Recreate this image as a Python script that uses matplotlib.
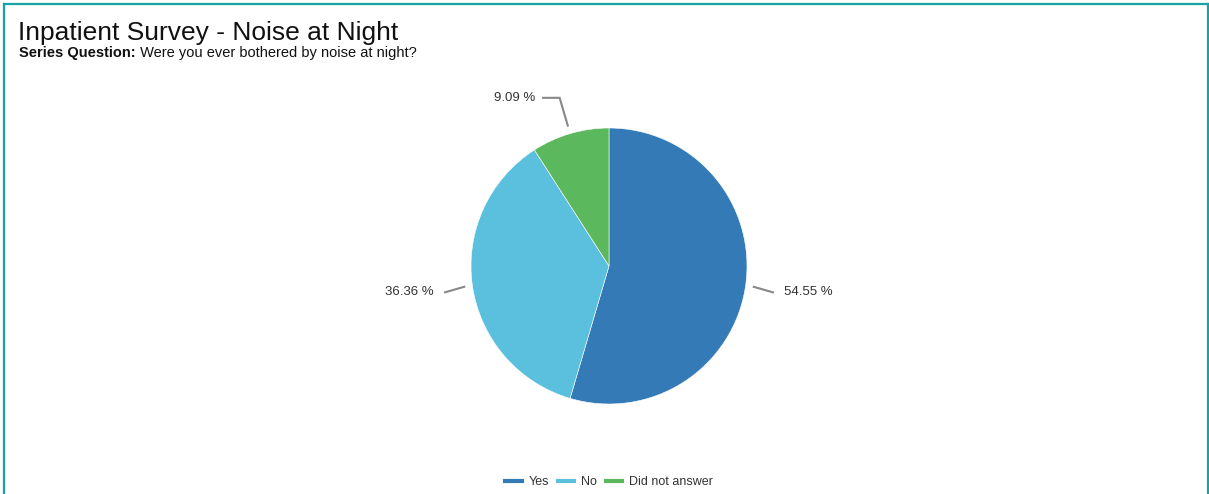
import matplotlib
matplotlib.use("Agg")
import matplotlib.pyplot as plt
import numpy as np
from matplotlib.lines import Line2D

plt.rcParams['font.family'] = ['Liberation Sans', 'DejaVu Sans']

categories = ["Yes", "No", "Did not answer"]
values = [54.55, 36.36, 9.09]
colors = ["#337ab7", "#5bc0de", "#5cb85c"]
title = "Inpatient Survey - Noise at Night"
sub_bold = "Series Question:"
sub_text = " Were you ever bothered by noise at night?"

W, H = 1209, 494
fig = plt.figure(figsize=(W / 100, H / 100), dpi=100)
fig.patch.set_facecolor("white")

def fx(px):
    return px / W

def fy(py):
    return 1 - py / H

# border
teal = "#17a2a8"
fig.add_artist(Line2D([fx(4), fx(4)], [fy(4.5), fy(H + 5)], color=teal, lw=1.6, transform=fig.transFigure))
fig.add_artist(Line2D([fx(4), fx(1207.5)], [fy(4.5), fy(4.5)], color=teal, lw=1.6, transform=fig.transFigure))
fig.add_artist(Line2D([fx(1207.5), fx(1207.5)], [fy(4.5), fy(H + 5)], color=teal, lw=1.6, transform=fig.transFigure))

# titles
fig.text(fx(18), fy(40), title, fontsize=19, color="#111111", va="baseline", ha="left")
tb = fig.text(fx(19), fy(57), sub_bold, fontsize=10.5, fontweight="bold", color="#111111", va="baseline", ha="left")
fig.canvas.draw()
bb = tb.get_window_extent(renderer=fig.canvas.get_renderer())
fig.text(bb.x1 / W, fy(57), sub_text, fontsize=10.5, color="#111111", va="baseline", ha="left")

# pie
cx, cy, r = 609, 266, 138
ax = fig.add_axes([fx(cx - r), fy(cy + r), 2 * r / W, 2 * r / H])
wedges, _ = ax.pie(values, colors=colors, startangle=90, counterclock=False,
                   radius=1.0, wedgeprops=dict(linewidth=0.4, edgecolor="white"))
ax.set_xlim(-1, 1)
ax.set_ylim(-1, 1)
ax.set_aspect("equal")
ax.axis("off")

total = sum(values)
ang = 90.0
for w, v in zip(wedges, values):
    span = 360.0 * v / total
    mid = np.deg2rad(ang - span / 2)
    ang -= span
    dx, dy = np.cos(mid), np.sin(mid)
    side = -1 if dx < 0 else 1
    if abs(dy) > 0.7:
        r0, r1 = 1.06, 1.27
        x0, y0 = r0 * dx, r0 * dy
        x1, y1 = r1 * dx, r1 * dy
        x2 = x1 + side * 0.12
        ax.plot([x0, x1, x2], [y0, y1, y1], color="#888888", lw=1.5, clip_on=False, solid_joinstyle="miter")
        ax.text(x2 + side * 0.06, y1, f"{v:.2f} %", ha="right" if side < 0 else "left",
                va="center", fontsize=9.5, color="#333333")
    else:
        r0, r1 = 1.06, 1.2
        x0, y0 = r0 * dx, r0 * dy
        x1, y1 = r1 * dx, r1 * dy - 0.02
        ax.plot([x0, x1], [y0, y1], color="#888888", lw=1.5, clip_on=False)
        ax.text(x1 + side * 0.08, y1, f"{v:.2f} %", ha="right" if side < 0 else "left",
                va="center", fontsize=9.5, color="#333333")

handles = [Line2D([0], [0], color=c, lw=3) for c in colors]
leg = fig.legend(handles, categories, loc="center", bbox_to_anchor=(fx(609), fy(482)),
                 ncol=3, frameon=False, fontsize=9.0, handlelength=1.3, handletextpad=0.55,
                 columnspacing=0.7, labelcolor="#333333")

fig.savefig("out.png", dpi=100)
